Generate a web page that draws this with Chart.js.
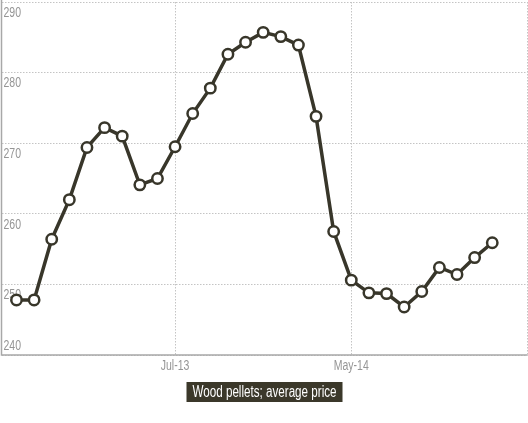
<!DOCTYPE html>
<html>
<head>
<meta charset="utf-8">
<script src="https://cdn.jsdelivr.net/npm/chart.js@4"></script>
<style>
  html, body { margin: 0; padding: 0; background: #fff; }
</style>
</head>
<body>
<canvas id="c" width="528" height="423"></canvas>
<script>
const months = ["Oct-12","Nov-12","Dec-12","Jan-13","Feb-13","Mar-13","Apr-13","May-13","Jun-13","Jul-13",
  "Aug-13","Sep-13","Oct-13","Nov-13","Dec-13","Jan-14","Feb-14","Mar-14","Apr-14","May-14",
  "Jun-14","Jul-14","Aug-14","Sep-14","Oct-14","Nov-14","Dec-14","Jan-15"];
const prices = [247.8, 247.8, 256.4, 262.0, 269.4, 272.2, 271.0, 264.1, 265.0, 269.5,
  274.2, 277.8, 282.6, 284.3, 285.7, 285.1, 283.9, 273.8, 257.5, 250.6,
  248.8, 248.7, 246.8, 249.0, 252.4, 251.4, 253.8, 255.9];
const xTickLabels = ["Jul-13", "May-14"];
const yTicks = [240, 250, 260, 270, 280, 290];
const seriesName = "Wood pellets; average price";

const labelFont = '"Liberation Sans", Arial, sans-serif';
const xTickIdx = xTickLabels.map(l => months.indexOf(l));
const X_MIN = -0.85, X_MAX = months.length + 1;

function drawNarrow(ctx, text, x, y, align, baseline, sx) {
  ctx.save();
  ctx.textAlign = align;
  ctx.textBaseline = baseline;
  ctx.translate(x, y);
  ctx.scale(sx, 1);
  ctx.fillText(text, 0, 0);
  ctx.restore();
}

const labelsPlugin = {
  id: 'labels',
  beforeDatasetsDraw(chart) {
    const ctx = chart.ctx, y = chart.scales.y, x = chart.scales.x, area = chart.chartArea;
    ctx.save();
    ctx.strokeStyle = '#a8a8a8';
    ctx.lineWidth = 1.5;
    ctx.setLineDash([]);
    ctx.beginPath();
    ctx.moveTo(area.left, area.top - 2);
    ctx.lineTo(area.left, area.bottom);
    ctx.lineTo(area.right, area.bottom);
    ctx.stroke();
    ctx.font = '14px ' + labelFont;
    ctx.fillStyle = '#959595';
    yTicks.forEach(v => {
      const py = y.getPixelForValue(v);
      if (v === y.min) drawNarrow(ctx, String(v), area.left + 2, py - 1.5, 'left', 'bottom', 0.75);
      else drawNarrow(ctx, String(v), area.left + 2, py + 4, 'left', 'top', 0.75);
    });
    xTickIdx.forEach((idx, k) => {
      drawNarrow(ctx, xTickLabels[k], x.getPixelForValue(idx), area.bottom + 4.5, 'center', 'top', 0.75);
    });
    ctx.restore();
  },
  afterDraw(chart) {
    const ctx = chart.ctx;
    const cx = (chart.chartArea.left + chart.chartArea.right) / 2;
    const top = 382, h = 20, w = 156;
    ctx.save();
    ctx.fillStyle = '#3b382a';
    ctx.fillRect(cx - w / 2, top, w, h);
    ctx.font = '16px ' + labelFont;
    ctx.fillStyle = '#ffffff';
    const tw = ctx.measureText(seriesName).width;
    drawNarrow(ctx, seriesName, cx, top + h / 2 + 0.5, 'center', 'middle', 144 / tw);
    ctx.restore();
  }
};

new Chart(document.getElementById('c'), {
  type: 'line',
  data: {
    datasets: [{
      label: seriesName,
      data: prices.map((v, i) => ({ x: i, y: v })),
      borderColor: '#38362a',
      borderWidth: 3.5,
      tension: 0,
      pointRadius: 5.2,
      pointBackgroundColor: '#fff',
      pointBorderColor: '#38362a',
      pointBorderWidth: 2.5,
      fill: false,
      clip: false
    }]
  },
  options: {
    responsive: false,
    animation: false,
    layout: { autoPadding: false, padding: { left: 1.5, top: 2, right: 0.5, bottom: 0 } },
    plugins: { legend: { display: false }, tooltip: { enabled: false } },
    scales: {
      x: {
        type: 'linear',
        min: X_MIN, max: X_MAX,
        afterBuildTicks(s) { s.ticks = xTickIdx.concat([X_MAX]).map(v => ({ value: v })); },
        afterFit(s) { s.height = 68; },
        ticks: { display: false },
        grid: { color: '#c4c4c4', lineWidth: 1, drawTicks: false },
        border: { display: false, dash: [1.5, 1.5] }
      },
      y: {
        min: 240, max: 290,
        afterBuildTicks(s) { s.ticks = yTicks.map(v => ({ value: v })); },
        afterFit(s) { s.width = 0; },
        ticks: { display: false },
        grid: { color: '#c4c4c4', lineWidth: 1, drawTicks: false },
        border: { display: false, dash: [1.5, 1.5] }
      }
    }
  },
  plugins: [labelsPlugin]
});
</script>
</body>
</html>
